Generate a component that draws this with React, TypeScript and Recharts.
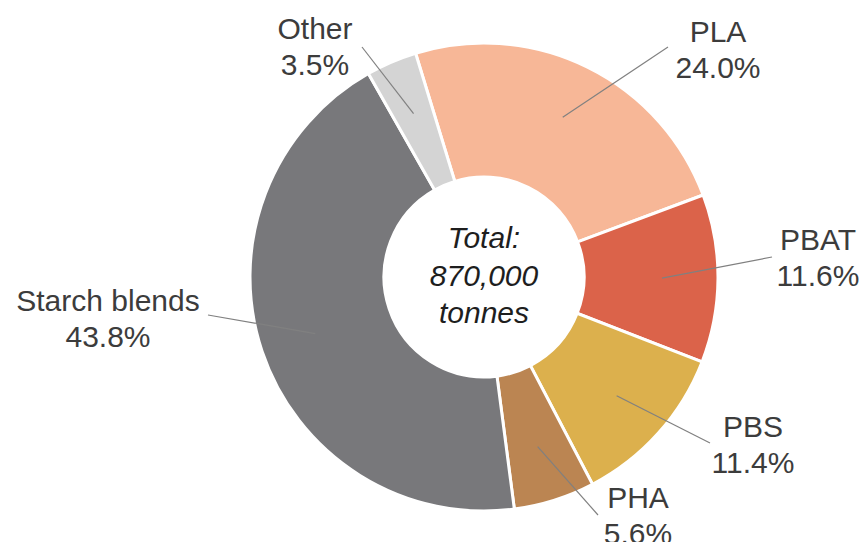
import { PieChart, Pie, Cell } from 'recharts';

const materials = ['PLA', 'PBAT', 'PBS', 'PHA', 'Starch blends', 'Other'];
const shares = [24.0, 11.6, 11.4, 5.6, 43.8, 3.5];
const sliceColors = ['#F7B797', '#DB634A', '#DCB04D', '#BB8552', '#78787B', '#D4D4D4'];
const totalLines = ['Total:', '870,000', 'tonnes'];

// where each label sits (text centre x, first baseline y) and where its leader line ends
const labelLayout = [
  { x: 718, y: 42, lx: 668, ly: 47 },
  { x: 818, y: 250, lx: 772, ly: 257 },
  { x: 753, y: 437, lx: 710, ly: 443 },
  { x: 638, y: 508, lx: 598, ly: 515 },
  { x: 108, y: 311, lx: 208, ly: 315 },
  { x: 315, y: 39, lx: 362, ly: 47 },
];

const data = materials.map((name, i) => ({ name, value: shares[i] }));

const RAD = Math.PI / 180;
const FONT = '"Liberation Sans", Arial, sans-serif';

function CenterTotal({ cx, cy }: { cx: number; cy: number }) {
  return (
    <g>
      {totalLines.map((t, i) => (
        <text
          key={t}
          x={cx}
          y={cy - 29 + i * 37.5}
          textAnchor="middle"
          fill="#1e1e1e"
          fontSize={30}
          fontStyle="italic"
          fontFamily={FONT}
        >
          {t}
        </text>
      ))}
    </g>
  );
}

function SliceLabel(props: any) {
  const { cx, cy, midAngle, index, name, value } = props;
  const pos = labelLayout[index];
  const r = 178;
  const sx = cx + Math.cos(-midAngle * RAD) * r;
  const sy = cy + Math.sin(-midAngle * RAD) * r;
  return (
    <g>
      {index === 0 && <CenterTotal cx={cx} cy={cy} />}
      <line x1={sx} y1={sy} x2={pos.lx} y2={pos.ly} stroke="#808080" strokeWidth={1.2} />
      <text x={pos.x} y={pos.y} textAnchor="middle" fill="#3c3c3c" fontSize={30} fontFamily={FONT}>
        {name}
      </text>
      <text x={pos.x} y={pos.y + 36} textAnchor="middle" fill="#3c3c3c" fontSize={30} fontFamily={FONT}>
        {`${value.toFixed(1)}%`}
      </text>
    </g>
  );
}

export default function App() {
  return (
    <div style={{ position: 'absolute', left: 0, top: 0, width: 864, height: 542, background: '#fff' }}>
      <PieChart width={864} height={542} margin={{ top: 0, right: 0, bottom: 0, left: 0 }}>
        <Pie
          data={data}
          dataKey="value"
          nameKey="name"
          cx={484}
          cy={277}
          innerRadius={100}
          outerRadius={234}
          startAngle={107}
          endAngle={-253}
          stroke="#ffffff"
          strokeWidth={3}
          label={SliceLabel}
          labelLine={false}
          isAnimationActive={false}
        >
          {data.map((d, i) => (
            <Cell key={d.name} fill={sliceColors[i]} />
          ))}
        </Pie>
      </PieChart>
    </div>
  );
}
